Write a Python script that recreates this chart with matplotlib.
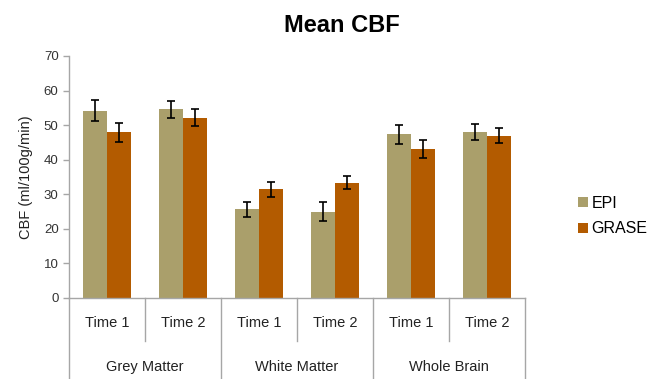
import matplotlib
matplotlib.use("Agg")
import matplotlib.pyplot as plt
import numpy as np

plt.rcParams['font.family'] = ['Liberation Sans', 'DejaVu Sans']

groups = ["Grey Matter", "White Matter", "Whole Brain"]
times = ["Time 1", "Time 2"]
epi = [54.2, 54.6, 25.6, 25.0, 47.4, 47.9]
epi_err = [3.0, 2.5, 2.2, 2.85, 2.75, 2.3]
grase = [47.9, 52.2, 31.4, 33.4, 43.1, 46.9]
grase_err = [2.75, 2.5, 2.1, 2.0, 2.6, 2.2]

c_epi = "#aa9f6b"
c_grase = "#b35b00"
axc = "#a6a6a6"

fig = plt.figure(figsize=(6.49, 3.79), dpi=100)
ax = fig.add_axes([69/649, 1-298/379, (525-69)/649, 242/379])

x = np.arange(len(epi))
w = 0.32
ax.bar(x - w/2, epi, w, color=c_epi, label="EPI", zorder=2)
ax.bar(x + w/2, grase, w, color=c_grase, label="GRASE", zorder=2)
ekw = dict(fmt="none", ecolor="black", elinewidth=1.2, capsize=3.2, capthick=1.2, zorder=3)
ax.errorbar(x - w/2, epi, yerr=epi_err, **ekw)
ax.errorbar(x + w/2, grase, yerr=grase_err, **ekw)

ax.set_xlim(-0.5, len(epi) - 0.5)
ax.set_ylim(0, 70)
ax.set_yticks(range(0, 71, 10))
ax.tick_params(axis='y', colors=axc, labelcolor="#333333", labelsize=9.5, length=4, width=1)
ax.set_xticks([])
for s in ["top", "right"]:
    ax.spines[s].set_visible(False)
for s in ["left", "bottom"]:
    ax.spines[s].set_color(axc)
    ax.spines[s].set_linewidth(1)
ax.set_ylabel("CBF (ml/100g/min)", fontsize=10.5, color="#222222", labelpad=8)

tr = ax.get_xaxis_transform()
# group boundaries
for b in [-0.5, 1.5, 3.5, 5.5]:
    ax.plot([b, b], [0, -0.34], transform=tr, color=axc, lw=1, clip_on=False)
for b in [0.5, 2.5, 4.5]:
    ax.plot([b, b], [0, -0.178], transform=tr, color=axc, lw=1, clip_on=False)
for i in range(len(epi)):
    ax.text(i, -0.103, times[i % 2], transform=tr, ha="center", va="center",
            fontsize=10.5, color="#222222")
for g, name in enumerate(groups):
    ax.text(2*g + 0.5, -0.285, name, transform=tr, ha="center", va="center",
            fontsize=10.5, color="#222222")

fig.text(342/649, 1-25/379, "Mean CBF", ha="center", va="center",
         fontsize=17, fontweight="bold")

ax.legend(loc="center left", bbox_to_anchor=(0.881, 0.43), frameon=False,
          fontsize=11.5, handlelength=0.6, handleheight=0.6, handletextpad=0.25,
          labelspacing=0.65, borderaxespad=0,
          bbox_transform=fig.transFigure)

fig.savefig("out.png", dpi=100)
